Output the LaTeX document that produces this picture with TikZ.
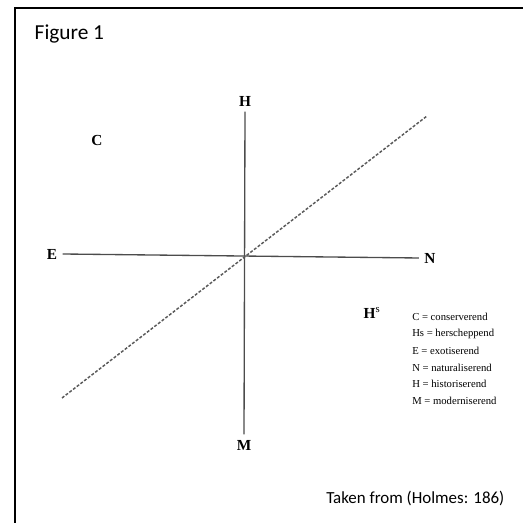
\documentclass[tikz,border=0pt]{standalone}
\usepackage{fontspec}
\setmainfont{Liberation Serif}
\newfontfamily\calibri{Carlito}
\usetikzlibrary{positioning}

\tikzset{
  axislabel/.style={font=\fontsize{11.5}{13}\selectfont\bfseries, inner sep=4pt},
  axisline/.style={line width=1pt, black!70},
  legendtext/.style={font=\fontsize{8}{9}\selectfont, anchor=west, inner sep=0pt}
}

\begin{document}
\begin{tikzpicture}[x=0.75pt, y=0.75pt]

        % Frame (picture size 523 x 523)
        \useasboundingbox (0,0) rectangle (523,523);
        \draw[line width=1.6pt] (15,-5) -- (15,515) -- (530,515);

        % Title and source
        \node[font=\calibri\fontsize{16}{19}\selectfont, anchor=west] (title) at (30,489) {Figure 1};
        \node[font=\calibri\fontsize{12.7}{15}\selectfont, anchor=east] (source) at (509,25) {Taken from (Holmes: 186)};

        % Axis labels
        \node[axislabel] (H) at (245,422) {H};
        \node[axislabel] (M) at (244,78) {M};
        \node[axislabel] (E) at (52,269) {E};
        \node[axislabel] (N) at (430,265) {N};
        \node[axislabel] (C) at (97,382) {C};
        \node[axislabel] (Hs) at (372,210) {H$^{\mathrm{s}}$};

        % Axes
        \draw[axisline] (H.south) -- (M.north);
        \draw[axisline] (E.east) -- (N.west);

        % Diagonal
        \coordinate (d1) at (62,125);
        \coordinate (d2) at (427,407);
        \draw[line width=1.1pt, black!65, dash pattern=on 2.2pt off 1.3pt] (d1) -- (d2);

        % Legend
        \foreach \txt [count=\i] in {C = conserverend, Hs = herscheppend, E = exotiserend,
                                     N = naturaliserend, H = historiserend, M = moderniserend}
            \node[legendtext] (leg\i) at (412,{206-16.8*(\i-1)}) {\txt};

    \end{tikzpicture}
\end{document}
